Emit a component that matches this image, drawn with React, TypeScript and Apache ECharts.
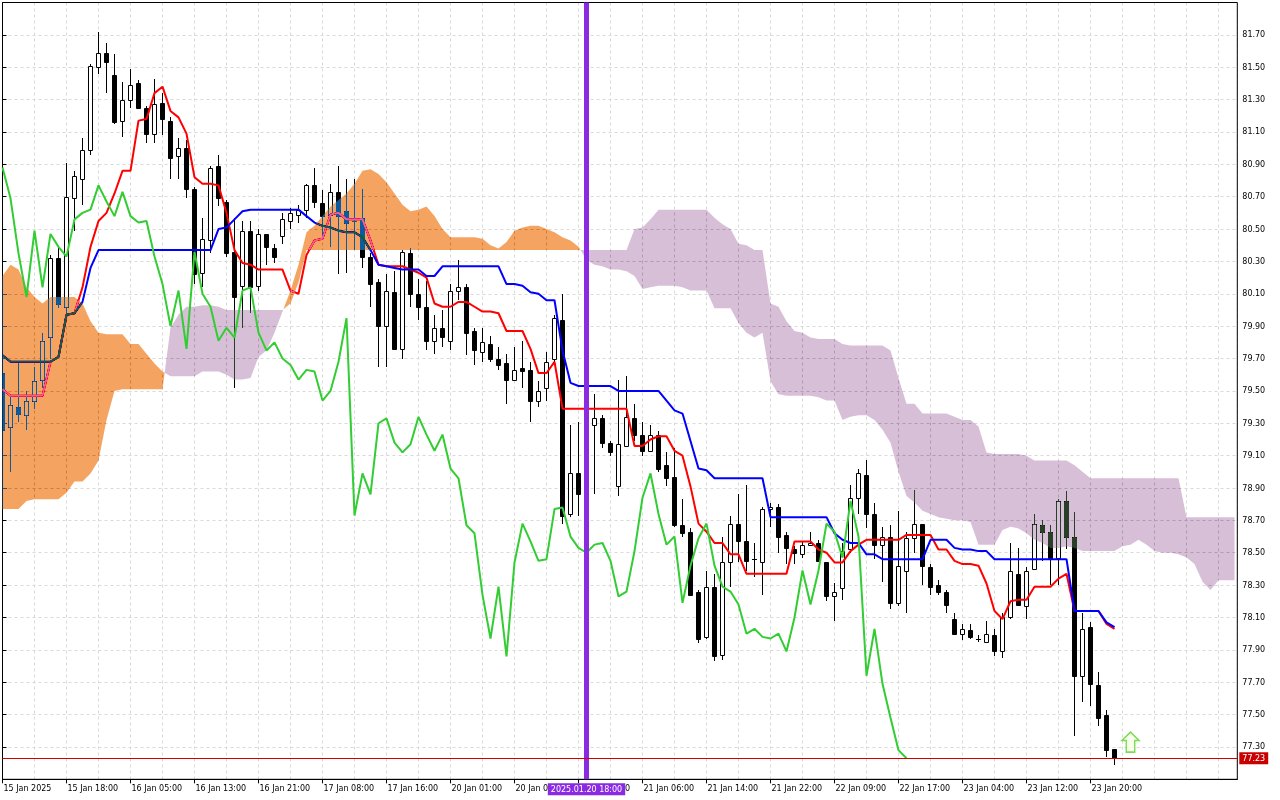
import React, { useEffect, useRef } from 'react';
import * as echarts from 'echarts';

// ---------- data ----------
const timeLabels = ['15 Jan 2025', '15 Jan 18:00', '16 Jan 05:00', '16 Jan 13:00', '16 Jan 21:00', '17 Jan 08:00', '17 Jan 16:00', '20 Jan 01:00', '20 Jan 09:00', '20 Jan 17:00', '21 Jan 06:00', '21 Jan 14:00', '21 Jan 22:00', '22 Jan 09:00', '22 Jan 17:00', '23 Jan 04:00', '23 Jan 12:00', '23 Jan 20:00'];
const barsPerLabel = 8;
const barsPerGridLine = 4;
const visibleBars = 154.35;

const opens = [
  79.61, 79.28, 79.40, 79.35, 79.44, 79.57, 79.83, 80.32, 80.02, 80.69,
  80.81, 80.99, 81.50, 81.59, 81.45, 81.17, 81.30, 81.40, 81.25, 81.09,
  81.28, 81.17, 80.95, 81.00, 80.75, 80.23, 80.43, 80.89, 80.67, 80.36,
  80.15, 80.49, 80.15, 80.47, 80.38, 80.46, 80.55, 80.59, 80.62, 80.77,
  80.66, 80.59, 80.73, 80.61, 80.55, 80.57, 80.33, 80.17, 79.90, 80.11,
  79.76, 80.35, 80.10, 80.02, 79.81, 79.89, 79.81, 80.12, 80.14, 79.87,
  79.74, 79.79, 79.70, 79.67, 79.57, 79.64, 79.63, 79.44, 79.52, 79.70,
  79.94, 78.74, 78.99, 78.86, 79.29, 79.33, 79.18, 78.91, 79.16, 79.33,
  79.23, 79.13, 79.23, 79.04, 78.97, 78.67, 78.63, 78.26, 77.98, 78.29,
  77.87, 78.44, 78.68, 78.57, 78.46, 78.44, 78.77, 78.78, 78.61, 78.52,
  78.49, 78.55, 78.56, 78.44, 78.23, 78.28, 78.52, 78.84, 78.98, 78.74,
  78.55, 78.60, 78.19, 78.39, 78.59, 78.68, 78.41, 78.30, 78.26, 78.09,
  78.00, 78.02, 77.97, 77.95, 77.99, 77.89, 78.10, 78.37, 78.17, 78.40,
  78.67, 78.63, 78.47, 78.82, 78.60, 77.74, 78.04, 77.68, 77.50, 77.29,
];
const highs = [
  79.66, 79.47, 79.67, 79.50, 79.65, 79.86, 80.34, 80.38, 80.91, 80.86,
  81.06, 81.52, 81.72, 81.65, 81.58, 81.41, 81.49, 81.42, 81.26, 81.43,
  81.34, 81.19, 81.06, 81.05, 80.76, 80.57, 80.89, 80.96, 80.68, 80.57,
  80.55, 80.55, 80.50, 80.47, 80.41, 80.60, 80.63, 80.65, 80.78, 80.88,
  80.74, 80.78, 80.89, 80.81, 80.81, 80.75, 80.35, 80.19, 80.22, 80.24,
  80.37, 80.38, 80.19, 80.18, 79.97, 80.00, 80.16, 80.31, 80.16, 79.89,
  79.89, 79.84, 79.77, 79.73, 79.77, 79.81, 79.68, 79.56, 79.74, 79.97,
  80.10, 79.29, 79.31, 79.36, 79.48, 79.35, 79.19, 79.57, 79.59, 79.42,
  79.31, 79.29, 79.25, 79.12, 79.15, 78.83, 78.65, 78.27, 78.39, 78.37,
  78.60, 78.73, 78.86, 78.92, 78.56, 78.78, 78.81, 78.80, 78.63, 78.54,
  78.57, 78.63, 78.58, 78.44, 78.31, 78.56, 78.92, 79.02, 79.07, 78.81,
  78.66, 78.67, 78.76, 78.63, 78.89, 78.68, 78.43, 78.33, 78.27, 78.13,
  78.06, 78.06, 77.99, 78.08, 78.03, 78.13, 78.56, 78.53, 78.41, 78.74,
  78.70, 78.67, 78.83, 78.88, 78.75, 78.13, 78.07, 77.76, 77.53, 77.29,
];
const lows = [
  79.20, 79.00, 79.31, 79.26, 79.39, 79.52, 79.70, 80.01, 79.97, 80.49,
  80.65, 80.96, 81.46, 81.34, 81.15, 81.07, 81.25, 81.24, 81.03, 81.03,
  81.08, 80.81, 80.81, 80.69, 80.16, 80.14, 80.35, 80.64, 80.33, 79.52,
  79.89, 79.98, 80.12, 80.28, 80.29, 80.41, 80.50, 80.54, 80.57, 80.63,
  80.45, 80.39, 80.22, 80.23, 80.37, 80.26, 80.02, 79.65, 79.65, 79.75,
  79.70, 80.02, 79.94, 79.75, 79.73, 79.77, 79.75, 80.06, 79.72, 79.66,
  79.68, 79.68, 79.63, 79.42, 79.57, 79.52, 79.31, 79.40, 79.44, 79.68,
  78.68, 78.72, 78.73, 78.80, 78.86, 79.15, 79.10, 78.85, 79.16, 79.19,
  79.10, 79.13, 79.00, 78.91, 78.66, 78.60, 78.24, 77.94, 77.97, 77.83,
  77.84, 78.29, 78.44, 78.39, 78.35, 78.24, 78.66, 78.50, 78.43, 78.43,
  78.47, 78.54, 78.44, 78.20, 78.08, 78.21, 78.50, 78.74, 78.65, 78.46,
  78.32, 78.15, 78.17, 78.13, 78.50, 78.30, 78.24, 78.24, 78.13, 77.99,
  77.96, 77.97, 77.95, 77.95, 77.86, 77.85, 78.09, 78.18, 78.09, 78.40,
  78.45, 78.30, 78.30, 78.52, 77.37, 77.58, 77.55, 77.43, 77.24, 77.19,
];
const closes = [
  79.26, 79.41, 79.36, 79.44, 79.56, 79.81, 80.32, 80.04, 80.70, 80.83,
  80.99, 81.51, 81.59, 81.53, 81.16, 81.30, 81.39, 81.25, 81.09, 81.27,
  81.18, 80.94, 81.00, 80.75, 80.22, 80.44, 80.88, 80.69, 80.35, 80.08,
  80.49, 80.14, 80.47, 80.39, 80.33, 80.56, 80.60, 80.62, 80.77, 80.67,
  80.58, 80.73, 80.58, 80.54, 80.55, 80.33, 80.16, 79.90, 80.12, 79.76,
  80.36, 80.10, 80.02, 79.81, 79.89, 79.83, 80.12, 80.14, 79.86, 79.75,
  79.80, 79.70, 79.66, 79.57, 79.63, 79.62, 79.44, 79.50, 79.68, 79.95,
  78.73, 78.99, 78.86, 79.30, 79.33, 79.18, 79.12, 79.17, 79.34, 79.23,
  79.13, 79.23, 79.02, 78.96, 78.67, 78.62, 78.24, 77.97, 78.29, 77.86,
  78.44, 78.68, 78.57, 78.45, 78.46, 78.77, 78.78, 78.60, 78.53, 78.50,
  78.55, 78.56, 78.45, 78.23, 78.26, 78.51, 78.84, 78.99, 78.74, 78.55,
  78.60, 78.19, 78.42, 78.59, 78.68, 78.42, 78.29, 78.26, 78.18, 78.00,
  78.03, 77.98, 77.97, 78.00, 77.89, 78.10, 78.39, 78.18, 78.39, 78.68,
  78.63, 78.47, 78.82, 78.60, 77.74, 78.03, 77.69, 77.48, 77.28, 77.23,
];

const tenkan = [
  79.51, 79.47, 79.47, 79.47, 79.47, 79.47, 79.68, 79.71, 79.97, 79.98,
  80.14, 80.39, 80.55, 80.60, 80.72, 80.86, 80.86, 81.17, 81.18, 81.34,
  81.38, 81.23, 81.19, 81.09, 80.82, 80.78, 80.78, 80.77, 80.60, 80.37,
  80.29, 80.28, 80.25, 80.25, 80.25, 80.25, 80.12, 80.10, 80.34, 80.43,
  80.44, 80.59, 80.60, 80.56, 80.56, 80.56, 80.43, 80.28, 80.27, 80.27,
  80.27, 80.25, 80.23, 80.20, 80.04, 80.02, 80.02, 80.05, 80.05, 80.02,
  79.99, 79.99, 79.98, 79.87, 79.87, 79.87, 79.76, 79.61, 79.61, 79.68,
  79.39, 79.39, 79.39, 79.39, 79.39, 79.39, 79.39, 79.39, 79.39, 79.16,
  79.16, 79.20, 79.22, 79.22, 79.13, 79.10, 78.91, 78.68, 78.63, 78.56,
  78.56, 78.49, 78.49, 78.37, 78.37, 78.37, 78.37, 78.37, 78.37, 78.57,
  78.57, 78.57, 78.52, 78.50, 78.44, 78.44, 78.51, 78.55, 78.58, 78.58,
  78.58, 78.58, 78.58, 78.61, 78.61, 78.61, 78.61, 78.52, 78.52, 78.45,
  78.43, 78.43, 78.42, 78.31, 78.14, 78.09, 78.20, 78.21, 78.21, 78.29,
  78.29, 78.29, 78.34, 78.37, 78.14, 78.14, 78.14, 78.14, 78.06, 78.03,
];
const kijun = [
  79.72, 79.68, 79.68, 79.68, 79.68, 79.68, 79.68, 79.71, 79.97, 79.98,
  80.05, 80.26, 80.37, 80.37, 80.37, 80.37, 80.37, 80.37, 80.37, 80.37,
  80.37, 80.37, 80.37, 80.37, 80.37, 80.37, 80.37, 80.50, 80.51, 80.56,
  80.61, 80.62, 80.62, 80.62, 80.62, 80.62, 80.62, 80.62, 80.58, 80.54,
  80.52, 80.51, 80.49, 80.48, 80.48, 80.45, 80.37, 80.28, 80.27, 80.26,
  80.25, 80.25, 80.25, 80.21, 80.21, 80.27, 80.27, 80.27, 80.27, 80.27,
  80.27, 80.27, 80.27, 80.16, 80.16, 80.15, 80.11, 80.10, 80.06, 80.06,
  79.75, 79.55, 79.53, 79.53, 79.53, 79.53, 79.53, 79.50, 79.50, 79.50,
  79.50, 79.50, 79.50, 79.44, 79.38, 79.36, 79.19, 79.02, 79.01, 78.96,
  78.96, 78.96, 78.96, 78.96, 78.96, 78.96, 78.72, 78.72, 78.72, 78.72,
  78.72, 78.72, 78.72, 78.72, 78.62, 78.58, 78.56, 78.56, 78.49, 78.49,
  78.46, 78.46, 78.46, 78.46, 78.46, 78.46, 78.58, 78.58, 78.58, 78.53,
  78.52, 78.52, 78.51, 78.51, 78.46, 78.46, 78.46, 78.46, 78.46, 78.46,
  78.46, 78.46, 78.46, 78.46, 78.14, 78.14, 78.14, 78.14, 78.07, 78.04,
];
const chikou = [
  80.88, 80.69, 80.35, 80.08, 80.49, 80.14, 80.47, 80.39, 80.33, 80.56,
  80.60, 80.62, 80.77, 80.67, 80.58, 80.73, 80.58, 80.54, 80.55, 80.33,
  80.16, 79.90, 80.12, 79.76, 80.36, 80.10, 80.02, 79.81, 79.89, 79.83,
  80.12, 80.14, 79.86, 79.75, 79.80, 79.70, 79.66, 79.57, 79.63, 79.62,
  79.44, 79.50, 79.68, 79.95, 78.73, 78.99, 78.86, 79.30, 79.33, 79.18,
  79.12, 79.17, 79.34, 79.23, 79.13, 79.23, 79.02, 78.96, 78.67, 78.62,
  78.24, 77.97, 78.29, 77.86, 78.44, 78.68, 78.57, 78.45, 78.46, 78.77,
  78.78, 78.60, 78.53, 78.50, 78.55, 78.56, 78.45, 78.23, 78.26, 78.51,
  78.84, 78.99, 78.74, 78.55, 78.60, 78.19, 78.42, 78.59, 78.68, 78.42,
  78.29, 78.26, 78.18, 78.00, 78.03, 77.98, 77.97, 78.00, 77.89, 78.10,
  78.39, 78.18, 78.39, 78.68, 78.63, 78.47, 78.82, 78.60, 77.74, 78.03,
  77.69, 77.48, 77.28, 77.23,
];
const spanA = [
  80.21, 80.28, 80.25, 80.14, 80.08, 80.04, 80.08, 80.08, 80.08, 80.08,
  80.04, 79.93, 79.86, 79.85, 79.85, 79.85, 79.79, 79.79, 79.73, 79.67,
  79.62, 79.59, 79.59, 79.59, 79.59, 79.62, 79.62, 79.62, 79.60, 79.57,
  79.57, 79.58, 79.71, 79.75, 79.86, 79.99, 80.12, 80.28, 80.48, 80.52,
  80.58, 80.64, 80.68, 80.72, 80.78, 80.86, 80.87, 80.84, 80.79, 80.72,
  80.65, 80.61, 80.62, 80.64, 80.58, 80.50, 80.45, 80.45, 80.45, 80.45,
  80.44, 80.40, 80.38, 80.42, 80.49, 80.51, 80.52, 80.52, 80.50, 80.48,
  80.45, 80.43, 80.39, 80.31, 80.28, 80.27, 80.25, 80.25, 80.24, 80.21,
  80.13, 80.14, 80.15, 80.15, 80.15, 80.14, 80.12, 80.12, 80.12, 80.01,
  80.01, 80.01, 79.92, 79.86, 79.83, 79.86, 79.56, 79.48, 79.47, 79.47,
  79.47, 79.47, 79.46, 79.44, 79.44, 79.32, 79.34, 79.35, 79.35, 79.32,
  79.26, 79.18, 79.00, 78.85, 78.81, 78.76, 78.74, 78.72, 78.71, 78.70,
  78.70, 78.69, 78.55, 78.55, 78.55, 78.64, 78.66, 78.65, 78.62, 78.58,
  78.56, 78.53, 78.53, 78.54, 78.53, 78.51, 78.51, 78.51, 78.51, 78.51,
  78.54, 78.55, 78.58, 78.55, 78.51, 78.50, 78.50, 78.49, 78.47, 78.43,
  78.32, 78.27, 78.33, 78.33, 78.33,
];
const spanB = [
  78.77, 78.77, 78.77, 78.82, 78.83, 78.83, 78.83, 78.83, 78.87, 78.94,
  78.94, 78.99, 79.07, 79.32, 79.50, 79.51, 79.51, 79.51, 79.51, 79.51,
  79.51, 79.89, 79.97, 80.02, 80.02, 80.03, 80.03, 80.02, 80.00, 80.00,
  80.00, 80.00, 80.00, 80.00, 80.00, 80.00, 80.04, 80.17, 80.37, 80.37,
  80.37, 80.37, 80.37, 80.37, 80.37, 80.37, 80.37, 80.37, 80.37, 80.37,
  80.37, 80.37, 80.37, 80.37, 80.37, 80.37, 80.37, 80.37, 80.37, 80.37,
  80.37, 80.37, 80.37, 80.37, 80.37, 80.37, 80.37, 80.37, 80.37, 80.37,
  80.37, 80.37, 80.37, 80.37, 80.37, 80.37, 80.37, 80.37, 80.37, 80.50,
  80.51, 80.56, 80.62, 80.62, 80.62, 80.62, 80.62, 80.62, 80.62, 80.57,
  80.53, 80.50, 80.41, 80.40, 80.37, 80.37, 80.04, 80.02, 79.93, 79.87,
  79.86, 79.83, 79.82, 79.82, 79.82, 79.79, 79.78, 79.78, 79.78, 79.78,
  79.78, 79.75, 79.58, 79.42, 79.42, 79.36, 79.36, 79.36, 79.36, 79.34,
  79.32, 79.32, 79.28, 79.12, 79.11, 79.11, 79.11, 79.11, 79.10, 79.07,
  79.07, 79.07, 79.07, 79.07, 79.04, 79.00, 78.96, 78.96, 78.96, 78.96,
  78.96, 78.96, 78.96, 78.96, 78.96, 78.96, 78.96, 78.96, 78.72, 78.72,
  78.72, 78.72, 78.72, 78.72, 78.72,
];

const separatorBar = 73;
const separatorLabel = '2025.01.20 18:00';
const lastPrice = 77.23;
const buyArrow = [141, 77.33];
const priceMin = 77.1;
const priceMax = 81.9;
const priceStep = 0.2;

// ---------- styling ----------
const FONT = 'DejaVu Sans';
const GRID_COLOR = '#d9d9d9';
// These fills are drawn with "difference" blending: on white they give sandy brown / thistle
const ORANGE_DIFF = '#0b5b9f';
const THISTLE_DIFF = '#274027';
const BLEND_FILLS = [ORANGE_DIFF, THISTLE_DIFF, 'rgb(11,91,159)', 'rgb(39,64,39)'];

const tickValues = timeLabels.map((_, i) => i * barsPerLabel);

function renderCandle(_params: any, api: any) {
  const k = api.value(0);
  const o = api.value(1);
  const c = api.value(2);
  const l = api.value(3);
  const h = api.value(4);
  const po = api.coord([k, o]);
  const pc = api.coord([k, c]);
  const pl = api.coord([k, l]);
  const ph = api.coord([k, h]);
  const cx = Math.round(po[0] - 0.5) + 0.5;
  const yTop = Math.round(Math.min(po[1], pc[1]));
  const yBot = Math.round(Math.max(po[1], pc[1]));
  const bull = c >= o;
  const children: any[] = [
    {
      type: 'line',
      shape: { x1: cx, y1: Math.round(ph[1]), x2: cx, y2: Math.round(pl[1]) },
      style: { stroke: '#000', lineWidth: 1 },
    },
  ];
  if (yBot - yTop < 1) {
    children.push({
      type: 'line',
      shape: { x1: cx - 2.5, y1: yTop + 0.5, x2: cx + 2.5, y2: yTop + 0.5 },
      style: { stroke: '#000', lineWidth: 1 },
    });
  } else {
    children.push({
      type: 'rect',
      shape: { x: cx - 2, y: yTop + 0.5, width: 4, height: yBot - yTop },
      style: { fill: bull ? '#ffffff' : '#000000', stroke: '#000', lineWidth: 1 },
    });
  }
  return { type: 'group', children, silent: true };
}

function renderCloud(_params: any, api: any) {
  type Reg = { up: boolean; top: number[][]; bot: number[][] };
  const regs: Reg[] = [];
  let cur: Reg | null = null;
  for (let k = 0; k < spanA.length; k++) {
    const a = spanA[k];
    const b = spanB[k];
    const up = a >= b;
    if (cur && cur.up !== up) {
      const pa = spanA[k - 1];
      const pb = spanB[k - 1];
      const d0 = pa - pb;
      const d1 = a - b;
      const t = d0 / (d0 - d1);
      const cross = [k - 1 + t, pa + t * (a - pa)];
      cur.top.push(cross);
      cur.bot.push(cross);
      regs.push(cur);
      cur = { up, top: [cross], bot: [cross] };
    }
    if (!cur) cur = { up, top: [], bot: [] };
    cur.top.push([k, a]);
    cur.bot.push([k, b]);
  }
  if (cur) regs.push(cur);
  return {
    type: 'group',
    silent: true,
    children: regs.map((r) => ({
      type: 'polygon',
      shape: { points: r.top.concat(r.bot.slice().reverse()).map((p) => api.coord(p)) },
      style: { fill: r.up ? ORANGE_DIFF : THISTLE_DIFF, blend: 'difference' },
    })),
  };
}

const lineSeries = (name: string, values: number[], color: string, z: number) => ({
  name,
  type: 'line',
  data: values.map((v, k) => [k, v]),
  symbol: 'none',
  showSymbol: false,
  silent: true,
  z,
  lineStyle: { color, width: 2 },
  emphasis: { disabled: true },
  animation: false,
});

const option: any = {
  animation: false,
  backgroundColor: '#ffffff',
  textStyle: { fontFamily: FONT },
  grid: {
    left: 2.5,
    right: 42.7,
    top: 2.5,
    bottom: 20.7,
    show: true,
    z: 1,
    borderColor: '#000',
    borderWidth: 1,
    backgroundColor: 'transparent',
    containLabel: false,
    outerBoundsMode: 'none',
  },
  xAxis: [
    {
      type: 'value',
      min: 0,
      max: visibleBars,
      interval: barsPerLabel,
      position: 'bottom',
      axisLine: { show: true, lineStyle: { color: '#000', width: 1 } },
      axisTick: { show: true, length: 4, lineStyle: { color: '#000' }, customValues: tickValues },
      axisLabel: {
        customValues: tickValues,
        formatter: (v: number) => {
          const i = Math.round(v / barsPerLabel);
          return Math.abs(v - i * barsPerLabel) < 1e-6 && timeLabels[i] ? timeLabels[i] : '';
        },
        color: '#000',
        fontSize: 8,
        fontFamily: FONT,
        align: 'left',
        margin: 5,
        padding: [0, 0, 0, 1],
        showMinLabel: true,
        showMaxLabel: true,
      },
      splitLine: { show: false },
    },
    {
      type: 'value',
      min: 0,
      max: visibleBars,
      interval: barsPerGridLine,
      position: 'bottom',
      axisLine: { show: false },
      axisTick: { show: false },
      axisLabel: { show: false },
      splitLine: { show: true, lineStyle: { color: GRID_COLOR, type: [3, 3], width: 1 } },
    },
  ],
  yAxis: {
    type: 'value',
    position: 'right',
    min: priceMin,
    max: priceMax,
    interval: priceStep,
    axisLine: { show: true, lineStyle: { color: '#000', width: 1 } },
    axisTick: { show: true, length: 4, lineStyle: { color: '#000' } },
    axisLabel: {
      formatter: (v: number) => v.toFixed(2),
      showMinLabel: false,
      showMaxLabel: false,
      color: '#000',
      fontSize: 8,
      fontFamily: FONT,
      margin: 5,
    },
    splitLine: { show: true, lineStyle: { color: GRID_COLOR, type: [3, 3], width: 1 } },
  },
  series: [
    {
      name: 'candles',
      type: 'custom',
      renderItem: renderCandle,
      data: closes.map((c, k) => [k, opens[k], c, lows[k], highs[k]]),
      encode: { x: 0, y: [1, 2, 3, 4] },
      z: 2,
      clip: true,
      silent: true,
    },
    lineSeries('Tenkan-sen', tenkan, '#ff0000', 3),
    lineSeries('Kijun-sen', kijun, '#0000ff', 3),
    {
      name: 'cloud',
      type: 'custom',
      renderItem: renderCloud,
      data: [[0, spanA[0]]],
      encode: { x: 0, y: 1 },
      z: 4,
      clip: false,
      silent: true,
    },
    lineSeries('Chikou Span', chikou, '#32cd32', 5),
    {
      name: 'markers',
      type: 'scatter',
      data: [buyArrow],
      z: 8,
      silent: true,
      symbol: 'path://M8,0 L16,8 L12,8 L12,19 L4,19 L4,8 L0,8 Z',
      symbolSize: [17, 20],
      symbolKeepAspect: false,
      itemStyle: { color: '#f6ffe6', borderColor: '#5bd12a', borderWidth: 1.5 },
      markLine: {
        silent: true,
        symbol: ['none', 'none'],
        z: 10,
        animation: false,
        data: [
          {
            xAxis: separatorBar,
            lineStyle: { color: '#8a2be2', width: 5, type: 'solid' },
            label: {
              show: true,
              position: 'start',
              distance: 4,
              formatter: separatorLabel,
              color: '#ffffff',
              backgroundColor: '#8a2be2',
              padding: [1, 3, 1, 3],
              fontSize: 8,
              fontFamily: FONT,
              lineHeight: 10,
            },
          },
          {
            yAxis: lastPrice,
            lineStyle: { color: '#d40000', width: 1, type: 'solid' },
            label: {
              show: true,
              position: 'end',
              distance: 2,
              formatter: lastPrice.toFixed(2),
              color: '#ffffff',
              backgroundColor: '#c80000',
              padding: [1, 3, 1, 3],
              fontSize: 8,
              fontFamily: FONT,
              lineHeight: 10,
            },
          },
        ],
      },
    },
  ],
};

export default function App() {
  const ref = useRef<HTMLDivElement>(null);
  useEffect(() => {
    const el = ref.current;
    if (!el) return;
    const chart = echarts.init(el, null, { renderer: 'svg' });
    const applyBlend = () => {
      el.querySelectorAll('path').forEach((p) => {
        const f = (p.getAttribute('fill') || '').toLowerCase().replace(/\s+/g, '');
        if (BLEND_FILLS.includes(f)) {
          (p as unknown as SVGElement).style.mixBlendMode = 'difference';
        }
      });
    };
    chart.on('finished', applyBlend);
    chart.setOption(option);
    applyBlend();
    return () => {
      chart.dispose();
    };
  }, []);
  return (
    <div
      ref={ref}
      style={{ position: 'fixed', left: 0, top: 0, width: 1280, height: 800, background: '#ffffff' }}
    />
  );
}
